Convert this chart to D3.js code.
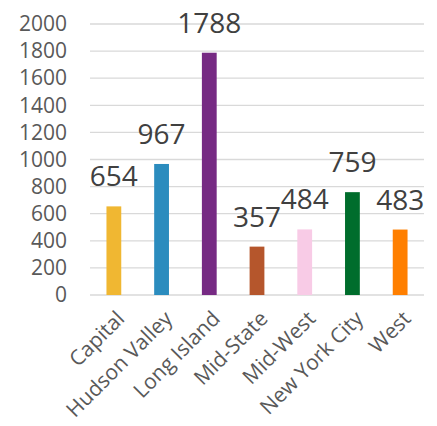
<!DOCTYPE html>
<html>
<head>
<meta charset="utf-8">
<script src="https://d3js.org/d3.v7.min.js"></script>
<style>
  body { margin: 0; background: #fff; }
</style>
</head>
<body>
<div class="chart"></div>
<script>
// chart data
var regions = ["Capital", "Hudson Valley", "Long Island", "Mid-State", "Mid-West", "New York City", "West"];
var counts = [654, 967, 1788, 357, 484, 759, 483];
var barColors = ["#F0B732", "#2B8CBE", "#762A83", "#B5562C", "#F8CBE6", "#006D2C", "#FF7F00"];
var yTicks = [0, 200, 400, 600, 800, 1000, 1200, 1400, 1600, 1800, 2000];

var svgWidth = 437, svgHeight = 426;
var margin = { top: 24, right: 13, bottom: 131, left: 90 };
var width = svgWidth - margin.left - margin.right;
var height = svgHeight - margin.top - margin.bottom;

var svg = d3.select(".chart")
  .append("svg")
  .attr("width", svgWidth)
  .attr("height", svgHeight);

var chartGroup = svg.append("g")
  .attr("transform", `translate(${margin.left}, ${margin.top})`);

var xScale = d3.scaleBand()
  .domain(regions)
  .range([0, width])
  .paddingInner(0.69)
  .paddingOuter(0.345);

var yScale = d3.scaleLinear()
  .domain([0, 2000])
  .range([height, 0]);

// gridlines
chartGroup.selectAll(".grid")
  .data(yTicks)
  .enter()
  .append("line")
  .attr("x1", 0)
  .attr("x2", width)
  .attr("y1", d => yScale(d))
  .attr("y2", d => yScale(d))
  .attr("stroke", "#d9d9d9")
  .attr("stroke-width", 1.3);

// y axis labels
var leftAxis = d3.axisLeft(yScale).tickValues(yTicks).tickFormat(d3.format("d")).tickSize(0).tickPadding(23);
var yAxisG = chartGroup.append("g").call(leftAxis);
yAxisG.select(".domain").remove();
yAxisG.selectAll("text")
  .attr("font-family", "Open Sans")
  .attr("font-size", "21px")
  .attr("fill", "#595959");

// bars
chartGroup.selectAll("rect")
  .data(counts)
  .enter()
  .append("rect")
  .attr("x", (d, i) => xScale(regions[i]))
  .attr("y", d => yScale(d))
  .attr("width", xScale.bandwidth())
  .attr("height", d => height - yScale(d))
  .attr("fill", (d, i) => barColors[i]);

// value labels
chartGroup.selectAll(".val")
  .data(counts)
  .enter()
  .append("text")
  .attr("x", (d, i) => xScale(regions[i]) + xScale.bandwidth() / 2)
  .attr("y", d => yScale(d) - 20)
  .attr("text-anchor", "middle")
  .attr("font-family", "Open Sans")
  .attr("font-size", "28px")
  .attr("fill", "#404040")
  .text(d => d);

// x labels, rotated
chartGroup.selectAll(".xlab")
  .data(regions)
  .enter()
  .append("text")
  .attr("transform", d => `translate(${xScale(d) + xScale.bandwidth() / 2 + 12}, ${height + 25})rotate(-45)`)
  .attr("text-anchor", "end")
  .attr("font-family", "Open Sans")
  .attr("font-size", "21px")
  .attr("fill", "#595959")
  .text(d => d);
</script>
</body>
</html>
